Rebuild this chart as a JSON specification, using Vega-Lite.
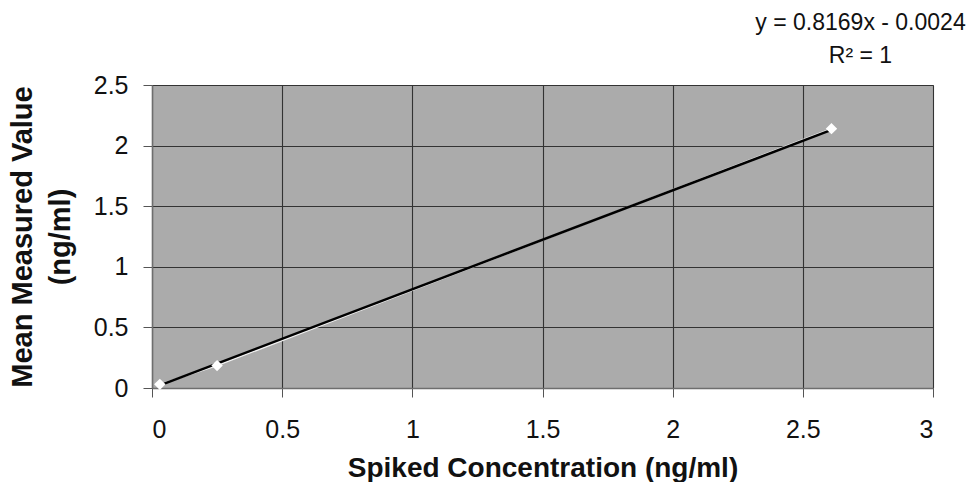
{
  "$schema": "https://vega.github.io/schema/vega-lite/v6.json",
  "width": 781,
  "height": 303,
  "autosize": {"type": "none"},
  "padding": {"left": 152, "top": 85, "right": 38, "bottom": 94},
  "background": "white",
  "title": {
    "text": "y = 0.8169x - 0.0024",
    "subtitle": "R² = 1",
    "anchor": "end",
    "align": "center",
    "dx": -73,
    "offset": 5,
    "font": "Liberation Sans",
    "fontSize": 23,
    "fontWeight": "normal",
    "color": "#111",
    "subtitleFont": "Liberation Sans",
    "subtitleFontSize": 23,
    "subtitleColor": "#111",
    "subtitlePadding": 10
  },
  "config": {
    "view": {"fill": "#ababab", "stroke": "#8a8a8a", "strokeWidth": 1},
    "axis": {
      "labelFont": "Liberation Sans",
      "titleFont": "Liberation Sans",
      "labelFontSize": 25,
      "titleFontSize": 28,
      "titleFontWeight": "bold",
      "labelColor": "#111",
      "titleColor": "#111",
      "domainColor": "#6e6e6e",
      "domainWidth": 1.5,
      "tickColor": "#555",
      "tickSize": 9,
      "gridColor": "#333333",
      "gridWidth": 1.1,
      "gridOpacity": 1,
      "format": "~g"
    }
  },
  "datasets": {
    "points": [
      {"conc": 0.03, "measured": 0.03},
      {"conc": 0.25, "measured": 0.185},
      {"conc": 2.61, "measured": 2.14}
    ],
    "trend": [
      {"conc": 0.03, "measured": 0.0221},
      {"conc": 2.61, "measured": 2.1297}
    ]
  },
  "encoding": {
    "x": {
      "field": "conc",
      "type": "quantitative",
      "scale": {"domain": [0, 3], "nice": false, "zero": true},
      "axis": {
        "values": [0, 0.5, 1, 1.5, 2, 2.5, 3],
        "title": "Spiked Concentration (ng/ml)",
        "labelPadding": 20,
        "titlePadding": 12,
        "grid": true
      }
    },
    "y": {
      "field": "measured",
      "type": "quantitative",
      "scale": {"domain": [0, 2.5], "nice": false},
      "axis": {
        "values": [0, 0.5, 1, 1.5, 2, 2.5],
        "title": ["Mean Measured Value", "(ng/ml)"],
        "titleFontSize": 29,
        "titleLineHeight": 38,
        "labelPadding": 15,
        "titlePadding": 18,
        "grid": true
      }
    }
  },
  "layer": [
    {
      "data": {"name": "points"},
      "mark": {"type": "line", "color": "#f2f2f2", "strokeWidth": 1.5}
    },
    {
      "data": {"name": "trend"},
      "mark": {"type": "line", "color": "#000000", "strokeWidth": 2.5}
    },
    {
      "data": {"name": "points"},
      "mark": {"type": "point", "shape": "diamond", "filled": true, "color": "#ffffff", "opacity": 1, "size": 130}
    }
  ]
}
